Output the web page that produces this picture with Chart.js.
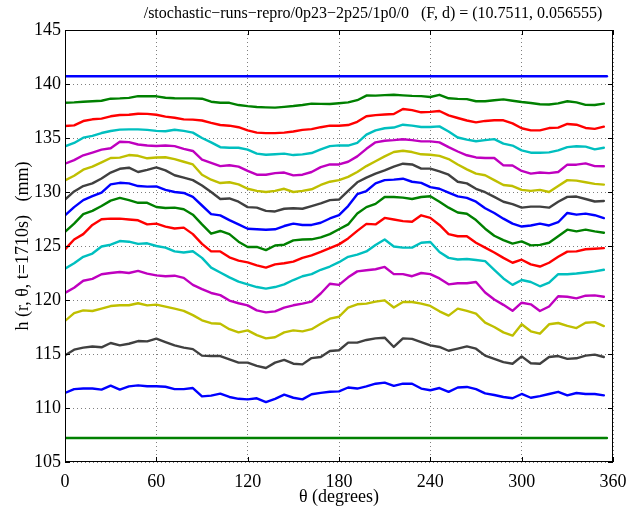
<!DOCTYPE html>
<html>
<head>
<meta charset="utf-8">
<script src="https://cdn.jsdelivr.net/npm/chart.js@4"></script>
<style>
  html, body { margin: 0; padding: 0; background: #fff; }
  canvas { display: block; }
</style>
</head>
<body>
<canvas id="hChart" width="644" height="509"></canvas>
<script>
// angle samples (degrees)
const theta = [0, 6, 12, 18, 24, 30, 36, 42, 48, 54, 60, 66, 72, 78, 84, 90, 96, 102, 108, 114,
  120, 126, 132, 138, 144, 150, 156, 162, 168, 174, 180, 186, 192, 198, 204, 210, 216, 222, 228, 234,
  240, 246, 252, 258, 264, 270, 276, 282, 288, 294, 300, 306, 312, 318, 324, 330, 336, 342, 348, 354];

// flat reference levels
const flatTheta = [0, 356];
const topLevel = [140.72, 140.72];
const bottomLevel = [107.22, 107.22];

// profiles, top to bottom
const run1 = [138.27, 138.30, 138.35, 138.40, 138.45, 138.64, 138.67, 138.72, 138.88, 138.87, 138.86, 138.73, 138.68, 138.67, 138.67, 138.64, 138.36, 138.26, 138.26, 138.05,
  137.95, 137.87, 137.84, 137.81, 137.88, 137.96, 138.06, 138.18, 138.16, 138.15, 138.22, 138.30, 138.50, 138.93, 138.92, 138.97, 139.01, 138.95, 138.90, 138.88,
  138.80, 139.00, 138.68, 138.62, 138.60, 138.40, 138.40, 138.50, 138.58, 138.45, 138.33, 138.24, 138.12, 138.10, 138.21, 138.40, 138.30, 138.07, 138.05, 138.18];
const run2 = [136.11, 136.17, 136.57, 136.73, 136.79, 137.01, 137.13, 137.15, 137.24, 137.23, 137.15, 136.98, 136.88, 136.72, 136.70, 136.62, 136.40, 136.20, 136.14, 136.00,
  135.70, 135.50, 135.45, 135.45, 135.50, 135.60, 135.75, 135.82, 136.00, 136.14, 136.14, 136.20, 136.50, 137.01, 137.12, 137.18, 137.22, 137.69, 137.58, 137.38,
  137.42, 137.50, 137.10, 136.85, 136.62, 136.45, 136.58, 136.64, 136.64, 136.35, 135.90, 135.71, 135.71, 135.92, 135.96, 136.30, 136.23, 135.93, 135.85, 136.05];
const run3 = [134.23, 134.54, 135.03, 135.20, 135.46, 135.65, 135.78, 135.80, 135.80, 135.75, 135.66, 135.62, 135.76, 135.66, 135.50, 135.00, 134.60, 134.15, 134.10, 134.10,
  133.92, 133.55, 133.45, 133.50, 133.55, 133.42, 133.48, 133.61, 133.95, 134.25, 134.32, 134.30, 134.55, 135.31, 135.70, 135.90, 135.97, 136.23, 136.15, 136.02,
  136.02, 136.08, 135.60, 135.05, 134.85, 134.70, 134.80, 134.90, 134.48, 134.30, 133.85, 133.64, 133.64, 133.67, 133.85, 134.15, 134.23, 134.20, 133.95, 134.10];
const run4 = [132.62, 132.95, 133.40, 133.65, 133.92, 134.05, 134.65, 134.62, 134.40, 134.30, 134.26, 134.30, 134.25, 134.00, 133.80, 133.00, 132.70, 132.40, 132.48, 132.35,
  131.95, 131.60, 131.60, 131.75, 131.80, 131.54, 131.60, 131.85, 132.30, 132.55, 132.55, 132.80, 133.30, 134.00, 134.60, 134.75, 134.80, 134.88, 134.80, 134.69,
  134.69, 134.60, 134.15, 133.75, 133.40, 133.20, 133.15, 133.15, 132.47, 132.45, 131.95, 131.70, 131.80, 131.75, 131.85, 132.53, 132.53, 132.65, 132.40, 132.38];
const run5 = [131.08, 131.50, 132.07, 132.35, 132.75, 133.15, 133.18, 133.42, 133.35, 133.12, 133.20, 133.22, 133.05, 132.80, 132.55, 131.60, 131.14, 130.83, 130.90, 130.70,
  130.30, 130.10, 130.00, 130.10, 130.30, 130.00, 130.10, 130.25, 130.65, 130.95, 131.10, 131.40, 131.85, 132.40, 132.85, 133.30, 133.70, 133.82, 133.70, 133.49,
  133.45, 133.35, 133.05, 132.55, 132.10, 131.70, 131.55, 131.10, 130.65, 130.55, 130.20, 130.10, 130.20, 130.00, 130.55, 131.10, 131.05, 130.90, 130.75, 130.68];
const run6 = [129.29, 130.05, 130.55, 130.80, 131.25, 131.80, 132.15, 132.25, 131.85, 132.05, 132.28, 132.00, 131.55, 131.33, 131.10, 130.60, 130.00, 129.35, 129.40, 129.10,
  128.60, 128.55, 128.25, 128.20, 128.45, 128.50, 128.45, 128.70, 128.95, 129.25, 129.30, 130.10, 130.90, 131.33, 131.70, 132.00, 132.35, 132.62, 132.55, 132.16,
  132.16, 131.91, 131.60, 130.95, 130.80, 130.30, 129.98, 129.55, 129.10, 128.88, 128.55, 128.65, 128.65, 128.55, 129.10, 129.55, 129.58, 129.35, 129.12, 129.16];
const run7 = [127.84, 128.60, 129.25, 129.62, 129.95, 130.70, 130.85, 130.80, 130.55, 130.50, 130.52, 130.20, 130.00, 129.91, 129.54, 128.75, 127.95, 127.84, 127.40, 127.00,
  126.60, 126.55, 126.50, 126.55, 126.85, 127.07, 126.95, 126.95, 127.15, 127.55, 127.85, 128.70, 129.80, 130.09, 130.80, 131.10, 131.15, 131.23, 130.95, 130.85,
  130.45, 130.30, 129.95, 129.60, 129.45, 129.10, 128.50, 128.05, 127.53, 127.07, 126.80, 126.90, 127.07, 126.90, 127.20, 128.06, 127.90, 128.00, 127.85, 127.59];
const run8 = [126.30, 127.07, 127.95, 128.25, 128.70, 129.20, 129.45, 129.25, 129.00, 129.00, 128.61, 128.52, 128.55, 128.40, 127.90, 127.00, 126.14, 126.39, 126.10, 125.40,
  124.91, 124.91, 124.62, 125.05, 125.12, 125.52, 125.60, 125.62, 125.80, 126.10, 126.55, 127.00, 128.00, 128.60, 128.90, 129.54, 129.54, 129.48, 129.35, 129.54,
  129.60, 129.10, 128.55, 128.10, 127.99, 127.40, 126.60, 125.95, 125.55, 125.22, 125.43, 125.06, 125.10, 125.30, 125.90, 126.51, 126.35, 126.51, 126.35, 126.23];
const run9 = [124.69, 125.60, 126.10, 126.95, 127.48, 127.53, 127.53, 127.45, 127.38, 127.00, 127.07, 126.80, 126.62, 126.70, 126.10, 125.20, 124.50, 124.50, 123.95, 123.65,
  123.48, 123.20, 123.00, 123.30, 123.40, 123.55, 123.90, 124.14, 124.45, 124.80, 125.15, 125.70, 126.40, 127.05, 127.00, 127.60, 127.45, 127.30, 127.25, 127.84,
  127.60, 126.95, 126.10, 125.90, 125.90, 125.30, 124.85, 124.40, 123.90, 123.45, 123.73, 123.30, 123.10, 123.45, 124.00, 124.48, 124.50, 124.70, 124.75, 124.80];
const run10 = [122.90, 123.40, 124.00, 124.30, 124.95, 125.12, 125.46, 125.40, 125.20, 125.25, 125.00, 124.85, 124.50, 124.40, 124.51, 123.90, 123.00, 122.55, 122.10, 121.70,
  121.45, 121.20, 121.05, 121.20, 121.45, 121.85, 122.20, 122.40, 122.80, 123.10, 123.50, 124.00, 124.20, 124.50, 125.10, 125.60, 124.95, 124.85, 124.85, 125.30,
  125.37, 124.44, 123.90, 123.75, 123.80, 123.70, 123.60, 122.80, 122.00, 121.40, 121.85, 121.67, 121.27, 121.60, 122.40, 122.38, 122.45, 122.55, 122.65, 122.80];
const run11 = [120.65, 121.14, 121.78, 121.95, 122.38, 122.50, 122.59, 122.50, 122.70, 122.44, 122.28, 122.20, 122.25, 122.05, 121.40, 121.00, 120.65, 120.45, 119.95, 119.70,
  119.50, 119.04, 118.85, 118.95, 119.30, 119.51, 119.66, 119.85, 120.60, 121.51, 121.40, 122.10, 122.65, 122.75, 122.85, 123.06, 122.40, 122.40, 122.20, 122.50,
  122.40, 122.00, 121.45, 121.55, 121.55, 121.67, 120.70, 120.05, 119.55, 119.00, 119.75, 119.60, 118.98, 119.40, 120.35, 120.30, 120.15, 120.40, 120.43, 120.30];
const run12 = [118.06, 118.78, 119.04, 118.98, 119.20, 119.44, 119.51, 119.51, 119.70, 119.50, 119.57, 119.38, 119.20, 119.00, 118.60, 118.12, 117.85, 117.80, 117.30, 117.00,
  117.19, 116.75, 116.45, 116.55, 117.00, 117.19, 117.10, 117.30, 117.80, 118.27, 118.45, 119.30, 119.60, 119.66, 119.85, 119.97, 119.30, 119.81, 119.81, 119.66,
  119.45, 118.95, 118.55, 119.20, 119.00, 118.73, 117.90, 117.50, 117.00, 116.70, 117.75, 117.10, 116.88, 117.75, 117.87, 117.60, 117.40, 117.90, 117.95, 117.59];
const run13 = [114.88, 115.40, 115.59, 115.70, 115.62, 116.02, 115.80, 115.95, 116.20, 116.17, 116.42, 116.10, 115.80, 115.59, 115.45, 114.85, 114.81, 114.81, 114.50, 114.20,
  114.20, 113.90, 113.70, 114.20, 114.45, 114.10, 114.04, 114.62, 114.72, 115.28, 115.35, 116.05, 116.05, 116.30, 116.45, 116.51, 115.65, 116.45, 116.40, 116.11,
  115.80, 115.65, 115.30, 115.50, 115.70, 115.49, 114.85, 114.55, 114.25, 114.10, 114.78, 114.15, 114.10, 114.72, 114.81, 114.55, 114.60, 114.85, 114.94, 114.72];
const run14 = [111.39, 111.75, 111.80, 111.80, 111.70, 112.07, 111.70, 112.00, 112.10, 112.01, 112.01, 111.97, 111.75, 111.75, 111.85, 111.08, 111.15, 111.33, 111.02, 110.85,
  110.80, 110.90, 110.55, 110.85, 111.23, 110.95, 110.80, 111.27, 111.40, 111.50, 111.54, 111.90, 111.80, 112.00, 112.25, 112.35, 112.05, 112.25, 112.25, 111.80,
  111.64, 111.85, 111.50, 111.90, 111.95, 111.75, 111.35, 111.20, 111.02, 110.90, 111.30, 110.95, 111.10, 111.30, 111.50, 111.17, 111.39, 111.30, 111.30, 111.17];

const xTicks = [0, 60, 120, 180, 240, 300, 360];
const yTicks = [105, 110, 115, 120, 125, 130, 135, 140, 145];

const titleText = '/stochastic\u2212runs\u2212repro/0p23\u22122p25/1p0/0   (F, d) = (10.7511, 0.056555)';
const xLabel = '\u03b8 (degrees)';
const yLabel = 'h (r, \u03b8, t=1710s)   (mm)';

// MATLAB colour order
const colors = ['#0000ff', '#008000', '#ff0000', '#00bfbf', '#bf00bf', '#bfbf00', '#404040'];
const serif = "'Liberation Serif', 'DejaVu Serif', serif";

function toPoints(xs, ys) {
  return xs.map((x, i) => ({ x: x, y: ys[i] }));
}

const series = [
  { xs: flatTheta, ys: topLevel },
  { xs: theta, ys: run1 }, { xs: theta, ys: run2 }, { xs: theta, ys: run3 },
  { xs: theta, ys: run4 }, { xs: theta, ys: run5 }, { xs: theta, ys: run6 },
  { xs: theta, ys: run7 }, { xs: theta, ys: run8 }, { xs: theta, ys: run9 },
  { xs: theta, ys: run10 }, { xs: theta, ys: run11 }, { xs: theta, ys: run12 },
  { xs: theta, ys: run13 }, { xs: theta, ys: run14 },
  { xs: flatTheta, ys: bottomLevel }
];

const datasets = series.map((s, i) => ({
  data: toPoints(s.xs, s.ys),
  borderColor: colors[i % colors.length],
  borderWidth: 2.4,
  borderJoinStyle: 'round',
  borderCapStyle: 'round',
  pointRadius: 0,
  tension: 0,
  fill: false
}));

// frame, inward ticks, title and axis labels like a matlab figure
const matlabFrame = {
  id: 'matlabFrame',
  afterDraw(chart) {
    const ctx = chart.ctx;
    const a = chart.chartArea;
    const xs = chart.scales.x, ys = chart.scales.y;
    ctx.save();
    ctx.strokeStyle = '#000';
    ctx.lineWidth = 1;
    ctx.strokeRect(Math.round(a.left) + 0.5, Math.round(a.top) + 0.5,
      Math.round(a.right - a.left) - 1, Math.round(a.bottom - a.top) - 1);
    ctx.beginPath();
    xTicks.forEach(t => {
      const px = Math.round(xs.getPixelForValue(t)) + 0.5;
      ctx.moveTo(px, a.bottom); ctx.lineTo(px, a.bottom - 5);
      ctx.moveTo(px, a.top); ctx.lineTo(px, a.top + 5);
    });
    yTicks.forEach(t => {
      const py = Math.round(ys.getPixelForValue(t)) + 0.5;
      ctx.moveTo(a.left, py); ctx.lineTo(a.left + 5, py);
      ctx.moveTo(a.right, py); ctx.lineTo(a.right - 5, py);
    });
    ctx.stroke();

    ctx.fillStyle = '#000';
    ctx.font = '16px ' + serif;
    ctx.textAlign = 'center';
    ctx.textBaseline = 'middle';
    ctx.fillText(titleText, 373, 14);

    ctx.font = '18px ' + serif;
    ctx.fillText(xLabel, (a.left + a.right) / 2, 497);

    ctx.translate(23, (a.top + a.bottom) / 2);
    ctx.rotate(-Math.PI / 2);
    ctx.fillText(yLabel, 0, 0);
    ctx.restore();
  }
};

new Chart(document.getElementById('hChart'), {
  type: 'line',
  data: { datasets: datasets },
  options: {
    responsive: false,
    animation: false,
    devicePixelRatio: 1,
    layout: { padding: { top: 30, right: 31, left: 0, bottom: 0 } },
    plugins: { legend: { display: false }, title: { display: false }, tooltip: { enabled: false } },
    scales: {
      x: {
        type: 'linear',
        min: 0, max: 360,
        afterBuildTicks: s => { s.ticks = xTicks.map(v => ({ value: v })); },
        afterFit: s => { s.height = 47; },
        grid: { color: 'rgba(0,0,0,0.5)', lineWidth: 1, drawTicks: false },
        border: { display: false, dash: [1, 3] },
        ticks: { color: '#000', padding: 9, font: { family: serif, size: 18 }, maxRotation: 0 }
      },
      y: {
        type: 'linear',
        min: 105, max: 145,
        afterBuildTicks: s => { s.ticks = yTicks.map(v => ({ value: v })); },
        afterFit: s => { s.width = 65; },
        grid: { color: 'rgba(0,0,0,0.5)', lineWidth: 1, drawTicks: false },
        border: { display: false, dash: [1, 3] },
        ticks: { color: '#000', padding: 4, font: { family: serif, size: 18 } }
      }
    }
  },
  plugins: [matlabFrame]
});
</script>
</body>
</html>
